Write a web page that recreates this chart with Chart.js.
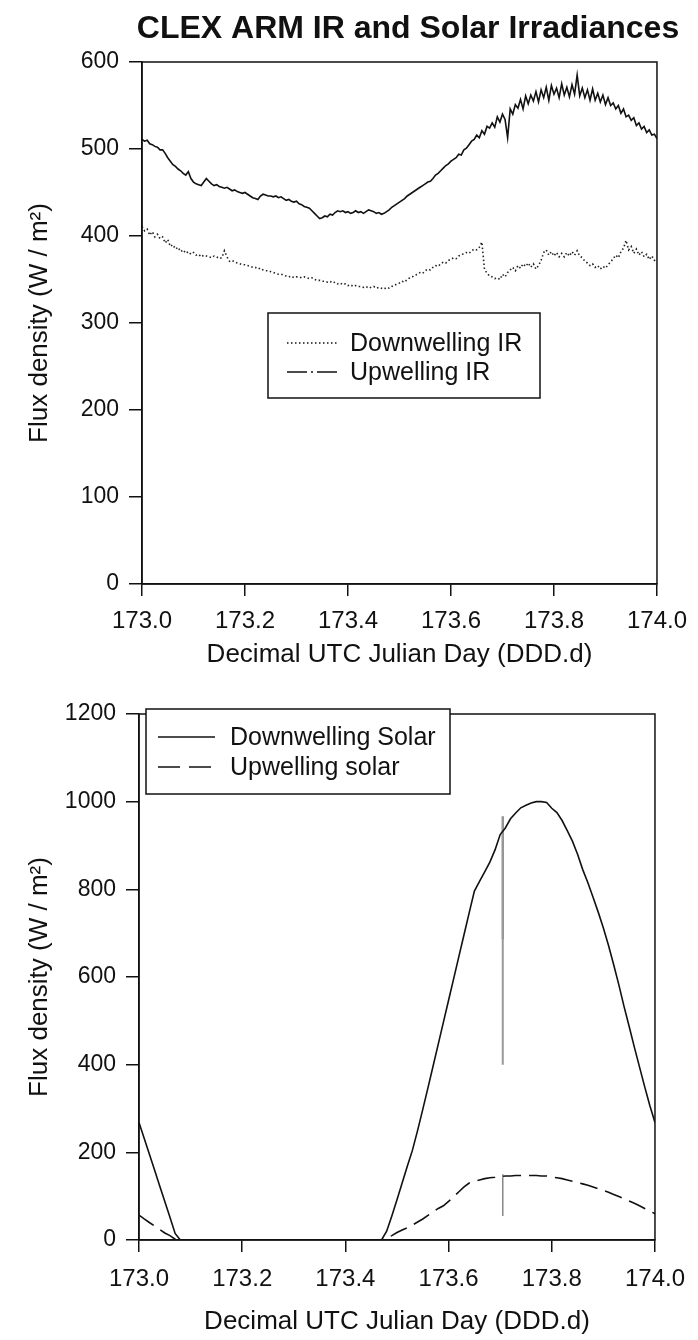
<!DOCTYPE html>
<html>
<head>
<meta charset="utf-8">
<title>CLEX ARM IR and Solar Irradiances</title>
<script src="https://cdn.jsdelivr.net/npm/chart.js@4.4.1/dist/chart.umd.min.js"></script>
<style>
  html, body { margin: 0; padding: 0; background: #fff; }
  canvas { display: block; }
</style>
</head>
<body>
<canvas id="irChart" width="698" height="670"></canvas>
<canvas id="solarChart" width="698" height="670"></canvas>
<script>
// IR irradiance, sampled every 0.005 day from 173.0
const irStart = 173.0, irStep = 0.005;
const upwellingIR = [
  511,509,510,506,505,503,502,499,499,495,
  490,486,482,480,477,475,472,470,474,466,
  462,460,459,458,462,466,463,460,458,459,
  457,456,455,456,454,452,453,451,450,449,
  450,448,446,444,443,442,446,448,447,446,
  446,445,446,444,445,443,441,442,440,439,
  440,437,436,434,433,432,429,426,423,420,
  421,423,422,425,424,427,429,428,429,427,
  428,426,427,429,427,428,426,428,430,429,
  428,426,427,425,426,428,430,433,435,437,
  439,441,443,446,448,450,452,454,456,458,
  460,462,463,466,470,472,475,478,481,483,
  486,488,490,494,493,499,501,505,509,511,
  516,513,521,517,526,524,530,525,537,531,
  540,534,513,546,540,551,547,557,546,561,
  552,562,555,566,554,568,559,571,556,573,
  563,570,559,575,562,571,560,574,563,585,
  561,570,559,568,556,569,556,564,554,562,
  551,559,550,553,546,550,541,546,537,539,
  533,536,527,530,523,526,519,522,516,517,
  512
];
const downwellingIR = [
  411,406,408,401,405,399,402,397,399,392,
  396,388,390,385,387,382,384,380,382,379,
  381,378,379,376,378,377,376,375,377,376,
  374,375,383,376,371,372,370,369,368,367,
  367,366,365,364,364,362,363,361,360,360,
  359,358,357,356,356,355,354,353,354,352,
  353,353,352,353,352,351,352,350,349,349,
  348,348,347,348,346,347,345,346,344,345,
  343,344,342,343,342,342,341,342,340,341,
  342,340,341,340,339,341,340,342,343,345,
  346,348,347,350,352,353,355,356,358,357,
  360,362,361,364,366,365,368,370,369,372,
  373,375,374,377,378,380,381,380,383,385,
  384,387,393,362,357,354,353,351,352,350,
  356,353,358,361,364,360,366,363,368,365,
  369,364,368,362,366,372,381,384,378,382,
  377,381,376,380,376,381,377,382,378,383,
  377,375,371,369,366,368,364,366,362,365,
  363,367,370,374,378,375,382,386,395,384,
  388,380,385,378,382,376,379,373,377,372,
  374
];

// solar irradiance, sampled every 0.01 day from 173.0
const solarStart = 173.0, solarStep = 0.01;
const downwellingSolar = [
  268,232,196,160,124,88,52,15,0,0,
  0,0,0,0,0,0,0,0,0,0,
  0,0,0,0,0,0,0,0,0,0,
  0,0,0,0,0,0,0,0,0,0,
  0,0,0,0,0,0,0,0,20,55,
  92,130,168,205,250,298,347,397,447,497,
  547,597,647,697,747,796,818,840,862,890,
  925,940,961,974,986,992,997,1000,1000,998,
  985,975,957,934,910,880,845,815,782,748,
  712,672,628,582,533,487,440,395,350,307,
  268
];
const upwellingSolar = [
  57,48,40,32,24,16,10,2,0,0,
  0,0,0,0,0,0,0,0,0,0,
  0,0,0,0,0,0,0,0,0,0,
  0,0,0,0,0,0,0,0,0,0,
  0,0,0,0,0,0,0,0,4,10,
  17,23,28,34,41,48,56,64,72,78,
  88,99,110,121,130,134,137,140,142,143,
  145,146,146,147,147,147,147,147,146,146,
  144,142,140,137,134,131,128,125,121,117,
  113,109,104,99,94,89,84,78,72,66,
  60
];

// single-sample dropouts near 173.705
const spikeDay = 173.705;
const downSolarSpike = [966, 400];
const downSolarSpikeDark = [966, 686];
const upSolarSpike = [150, 55];

const FONT = "'Liberation Sans', Arial, Helvetica, sans-serif";
const INK = '#111';

function series(start, step, values) {
  return values.map((v, i) => ({ x: +(start + i * step).toFixed(3), y: v }));
}
function spike(values) {
  return values.map(v => ({ x: spikeDay, y: v }));
}

// frame around the plot, optional title and a boxed legend
const framePlugin = {
  id: 'framePlugin',
  afterDatasetsDraw(chart, args, opts) {
    const { ctx, chartArea: a } = chart;
    ctx.save();
    ctx.strokeStyle = INK;
    ctx.lineWidth = 1.5;
    ctx.strokeRect(a.left, a.top, a.right - a.left, a.bottom - a.top);

    if (opts.title) {
      ctx.fillStyle = INK;
      ctx.font = 'bold 32px ' + FONT;
      ctx.textAlign = 'center';
      ctx.textBaseline = 'middle';
      ctx.fillText(opts.title.text, opts.title.x, opts.title.y);
    }

    const lg = opts.legend;
    if (lg) {
      ctx.fillStyle = '#fff';
      ctx.fillRect(lg.x, lg.y, lg.w, lg.h);
      ctx.strokeStyle = INK;
      ctx.lineWidth = 1.5;
      ctx.strokeRect(lg.x, lg.y, lg.w, lg.h);
      ctx.font = '25px ' + FONT;
      ctx.textAlign = 'left';
      ctx.textBaseline = 'middle';
      lg.rows.forEach((r, i) => {
        const y = lg.rowY[i];
        ctx.beginPath();
        ctx.setLineDash(r.dash);
        ctx.lineWidth = r.width;
        ctx.moveTo(lg.lineX1, y);
        ctx.lineTo(lg.lineX2, y);
        ctx.stroke();
        ctx.setLineDash([]);
        ctx.fillStyle = INK;
        ctx.fillText(r.label, lg.textX, y + 1);
      });
    }
    ctx.restore();
  }
};

function axes(yMax, yStep, yWidth, xHeight, xTickPad, xTitlePad) {
  return {
    x: {
      type: 'linear', min: 173, max: 174,
      border: { display: true, color: INK, width: 1.5 },
      grid: { drawOnChartArea: false, drawTicks: true, tickLength: 12, color: INK, lineWidth: 1.5 },
      ticks: {
        stepSize: 0.2, color: INK, padding: xTickPad, maxRotation: 0,
        font: { family: FONT, size: 24 },
        callback: v => v.toFixed(1)
      },
      title: {
        display: true, text: 'Decimal UTC Julian Day (DDD.d)', color: INK,
        font: { family: FONT, size: 26 }, padding: { top: 0, bottom: xTitlePad }
      },
      afterFit: s => { s.height = xHeight; }
    },
    y: {
      min: 0, max: yMax,
      border: { display: true, color: INK, width: 1.5 },
      grid: { drawOnChartArea: false, drawTicks: true, tickLength: 13, color: INK, lineWidth: 1.5 },
      ticks: {
        stepSize: yStep, color: INK, padding: 10,
        font: { family: FONT, size: 23 },
        callback: v => String(v)
      },
      title: {
        display: true, text: 'Flux density (W / m²)', color: INK,
        font: { family: FONT, size: 26 }, padding: { top: 2, bottom: 4 }
      },
      afterFit: s => { s.width = yWidth; }
    }
  };
}

const lineBase = { pointRadius: 0, tension: 0, fill: false };

new Chart(document.getElementById('irChart'), {
  type: 'line',
  data: {
    datasets: [
      Object.assign({ label: 'Downwelling IR', data: series(irStart, irStep, downwellingIR),
        borderColor: '#222', borderWidth: 1.6, borderDash: [1.5, 2.5] }, lineBase),
      Object.assign({ label: 'Upwelling IR', data: series(irStart, irStep, upwellingIR),
        borderColor: INK, borderWidth: 1.6 }, lineBase)
    ]
  },
  options: {
    responsive: false, animation: false, devicePixelRatio: 1,
    layout: { autoPadding: false, padding: { left: 22, right: 36, top: 62, bottom: 0 } },
    scales: axes(600, 100, 120, 86, 11, 0),
    plugins: {
      legend: { display: false },
      tooltip: { enabled: false },
      framePlugin: {
        title: { text: 'CLEX ARM IR and Solar Irradiances', x: 408, y: 29 },
        legend: {
          x: 268, y: 313, w: 272, h: 85,
          lineX1: 287, lineX2: 338, textX: 350, rowY: [343, 372],
          rows: [
            { label: 'Downwelling IR', dash: [1.5, 2.5], width: 1.5 },
            { label: 'Upwelling IR', dash: [20, 4, 2, 4], width: 1.5 }
          ]
        }
      }
    }
  },
  plugins: [framePlugin]
});

new Chart(document.getElementById('solarChart'), {
  type: 'line',
  data: {
    datasets: [
      Object.assign({ label: 'Downwelling Solar', data: series(solarStart, solarStep, downwellingSolar),
        borderColor: INK, borderWidth: 1.6 }, lineBase),
      Object.assign({ label: 'Upwelling solar', data: series(solarStart, solarStep, upwellingSolar),
        borderColor: INK, borderWidth: 1.6, borderDash: [18, 8] }, lineBase),
      Object.assign({ label: 'spike', data: spike(downSolarSpike),
        borderColor: '#999', borderWidth: 2 }, lineBase),
      Object.assign({ label: 'spike dark', data: spike(downSolarSpikeDark),
        borderColor: '#666', borderWidth: 2 }, lineBase),
      Object.assign({ label: 'spike up', data: spike(upSolarSpike),
        borderColor: '#888', borderWidth: 1.5 }, lineBase)
    ]
  },
  options: {
    responsive: false, animation: false, devicePixelRatio: 1,
    layout: { autoPadding: false, padding: { left: 22, right: 38, top: 44, bottom: 0 } },
    scales: axes(1200, 200, 117, 100, 13, 3),
    plugins: {
      legend: { display: false },
      tooltip: { enabled: false },
      framePlugin: {
        legend: {
          x: 146, y: 39, w: 304, h: 85,
          lineX1: 158, lineX2: 215, textX: 230, rowY: [67, 97],
          rows: [
            { label: 'Downwelling Solar', dash: [], width: 1.5 },
            { label: 'Upwelling solar', dash: [22, 9], width: 1.5 }
          ]
        }
      }
    }
  },
  plugins: [framePlugin]
});
</script>
</body>
</html>
